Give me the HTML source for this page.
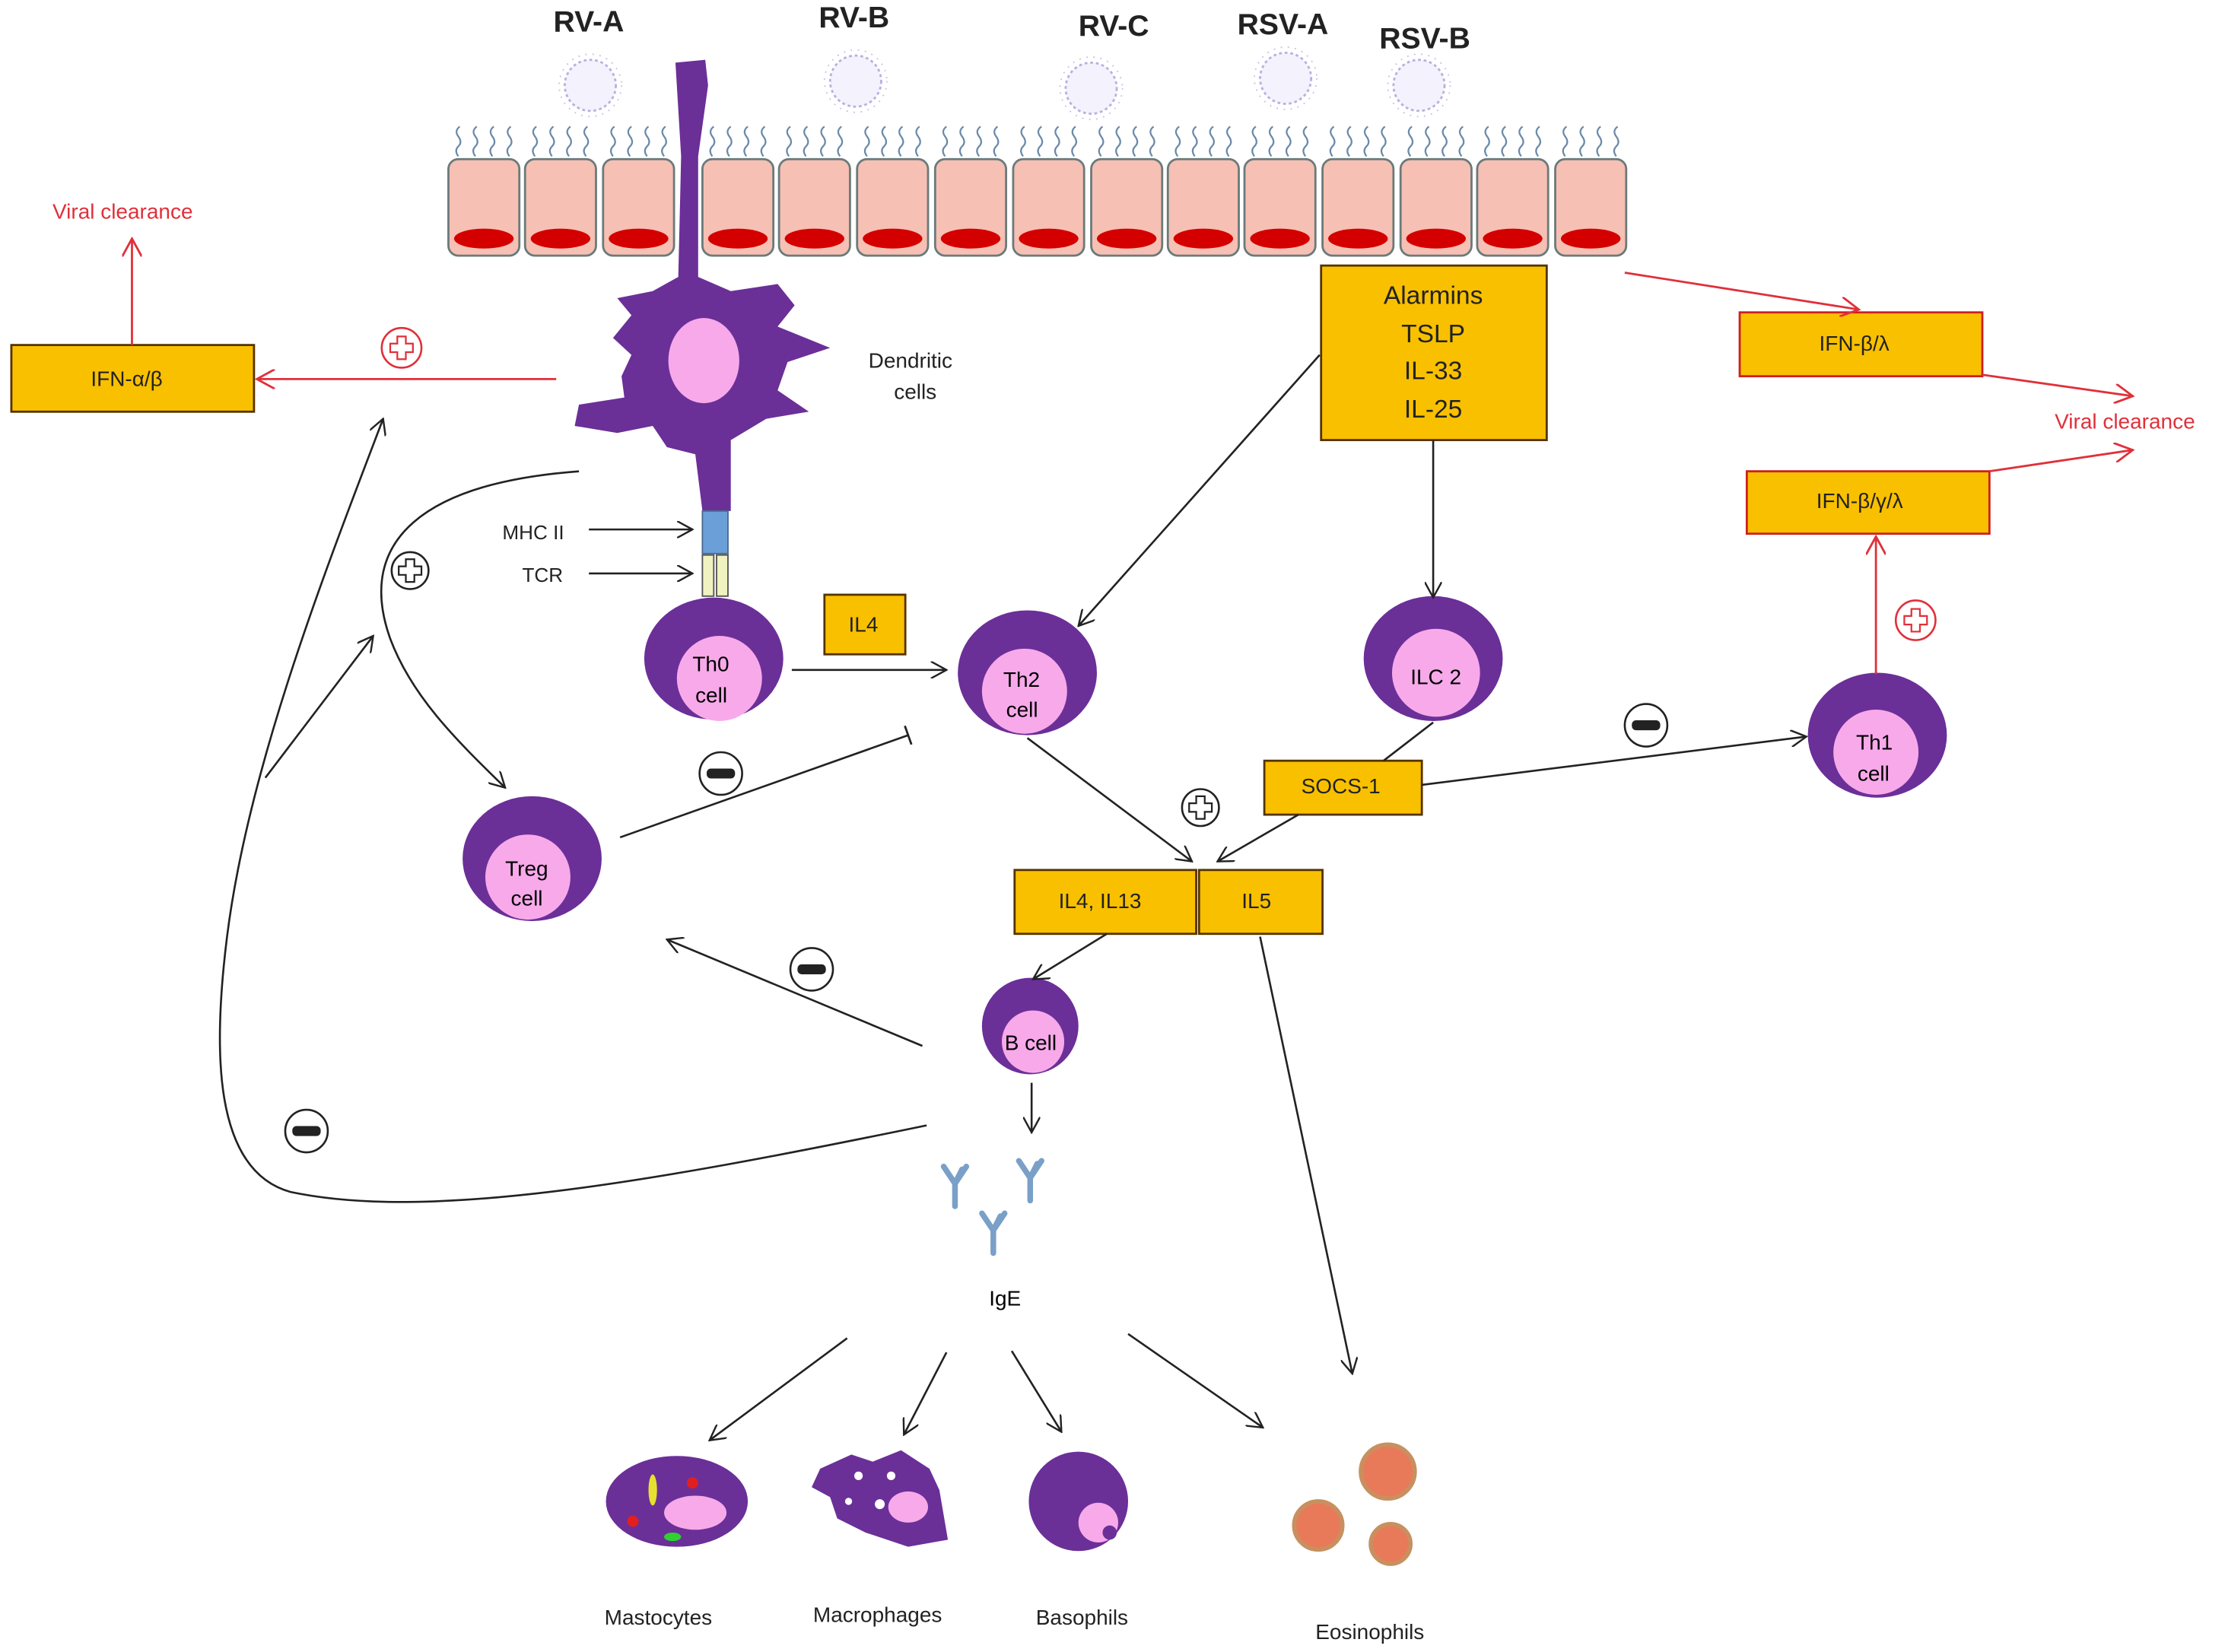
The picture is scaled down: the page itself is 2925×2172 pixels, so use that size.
<!DOCTYPE html>
<html><head><meta charset="utf-8"><style>
html,body{margin:0;padding:0;background:#fff;}
svg{display:block;}
text{font-family:"Liberation Sans",sans-serif;}
</style></head><body>
<svg width="2925" height="2172" viewBox="0 0 1568 1164" xmlns="http://www.w3.org/2000/svg">
<defs>
<marker id="a" viewBox="0 0 12 12" refX="11" refY="6" markerWidth="12" markerHeight="12" markerUnits="userSpaceOnUse" orient="auto"><path d="M0,0 L11,6 L0,12" fill="none" stroke="#222" stroke-width="1.3"/></marker>
<marker id="r" viewBox="0 0 12 12" refX="11" refY="6" markerWidth="14" markerHeight="14" markerUnits="userSpaceOnUse" orient="auto"><path d="M0,0 L11,6 L0,12" fill="none" stroke="#e0303a" stroke-width="1.3"/></marker>
<marker id="t" viewBox="0 0 4 14" refX="2" refY="7" markerWidth="4" markerHeight="14" markerUnits="userSpaceOnUse" orient="auto"><path d="M2,0 L2,14" stroke="#222" stroke-width="1.5"/></marker>
<g id="cilia"><path d="M3,22 q-3,-4 0,-7 q3,-3 0,-7 q-3,-4 1,-7" fill="none" stroke="#6a8aa8" stroke-width="1.2"/></g>
<g id="virus"><circle r="18" fill="#f4f2fc" stroke="#b8b0e0" stroke-width="1.5" stroke-dasharray="2 2"/><circle r="22" fill="none" stroke="#c8c0ec" stroke-width="1" stroke-dasharray="1 4"/></g>
<g id="plus"><circle r="13" fill="#fff" stroke="#222" stroke-width="1.4"/><path d="M-3,-8 h6 v5 h5 v6 h-5 v5 h-6 v-5 h-5 v-6 h5z" fill="#fff" stroke="#222" stroke-width="1.2"/></g>
<g id="rplus"><circle r="14" fill="#fff" stroke="#e0303a" stroke-width="1.4"/><path d="M-3,-8 h6 v5 h5 v6 h-5 v5 h-6 v-5 h-5 v-6 h5z" fill="#fff" stroke="#e0303a" stroke-width="1.2"/></g>
<g id="minus"><circle r="15" fill="#fff" stroke="#222" stroke-width="1.4"/><rect x="-10" y="-3.5" width="20" height="7" rx="3" fill="#222"/></g>
<g id="cilrow"><use href="#cilia" x="4" y="88"/><use href="#cilia" x="16" y="88"/><use href="#cilia" x="28" y="88"/><use href="#cilia" x="40" y="88"/></g>
<g id="cell"><rect x="0" y="112" width="50" height="68" rx="7" fill="#f6c0b4" stroke="#6a7a7a" stroke-width="1.5"/><ellipse cx="25" cy="168" rx="21" ry="7" fill="#d40000"/><use href="#cilrow"/></g>
<g id="ab"><path d="M0,0 L8,12 L16,0 M8,12 V28 M13,2 L8,12" fill="none" stroke="#7aa0c8" stroke-width="4" stroke-linecap="round"/></g>
</defs>

<!-- viruses -->
<g font-weight="bold" font-size="21" fill="#222">
<text x="390" y="22">RV-A</text><text x="577" y="19">RV-B</text><text x="760" y="25">RV-C</text><text x="872" y="24">RSV-A</text><text x="972" y="34">RSV-B</text></g>
<use href="#virus" x="416" y="60"/><use href="#virus" x="603" y="57"/><use href="#virus" x="769" y="62"/><use href="#virus" x="906" y="55"/><use href="#virus" x="1000" y="60"/>

<!-- epithelium -->
<use href="#cell" x="316"/><use href="#cell" x="370"/><use href="#cell" x="425"/>
<use href="#cell" x="495"/><use href="#cell" x="549"/><use href="#cell" x="604"/><use href="#cell" x="659"/><use href="#cell" x="714"/><use href="#cell" x="769"/><use href="#cell" x="823"/><use href="#cell" x="877"/><use href="#cell" x="932"/><use href="#cell" x="987"/><use href="#cell" x="1041"/><use href="#cell" x="1096"/>

<!-- dendritic cell -->
<path d="M476,44 L497,42 L499,60 L492,110 L492,195 L515,205 L548,200 L560,215 L548,230 L585,245 L555,255 L548,275 L570,290 L540,295 L515,310 L515,360 L495,360 L490,320 L470,315 L460,300 L435,305 L405,300 L408,285 L440,280 L438,265 L445,250 L432,238 L445,222 L435,210 L460,205 L478,195 L480,110 Z" fill="#6b2f98"/>
<ellipse cx="496" cy="254" rx="25" ry="30" fill="#f7a9ea"/>
<rect x="495" y="360" width="18" height="30" fill="#6a9fd8" stroke="#4a6a90"/>
<rect x="495" y="391" width="8" height="29" fill="#f0f2c0" stroke="#555"/><rect x="505" y="391" width="8" height="29" fill="#f0f2c0" stroke="#555"/>
<text x="612" y="259" font-size="15" fill="#222">Dendritic</text><text x="630" y="281" font-size="15" fill="#222">cells</text>
<text x="354" y="380" font-size="14" fill="#222">MHC II</text><text x="368" y="410" font-size="14" fill="#222">TCR</text>

<!-- cells -->
<g><ellipse cx="503" cy="464" rx="49" ry="43" fill="#6b2f98"/><circle cx="507" cy="478" r="30" fill="#f7a9ea"/><text x="488" y="473" font-size="15">Th0</text><text x="490" y="495" font-size="15">cell</text></g>
<g><ellipse cx="724" cy="474" rx="49" ry="44" fill="#6b2f98"/><circle cx="722" cy="487" r="30" fill="#f7a9ea"/><text x="707" y="484" font-size="15">Th2</text><text x="709" y="505" font-size="15">cell</text></g>
<g><ellipse cx="1010" cy="464" rx="49" ry="44" fill="#6b2f98"/><circle cx="1012" cy="474" r="31" fill="#f7a9ea"/><text x="994" y="482" font-size="15">ILC 2</text></g>
<g><ellipse cx="1323" cy="518" rx="49" ry="44" fill="#6b2f98"/><circle cx="1322" cy="530" r="30" fill="#f7a9ea"/><text x="1308" y="528" font-size="15">Th1</text><text x="1309" y="550" font-size="15">cell</text></g>
<g><ellipse cx="375" cy="605" rx="49" ry="44" fill="#6b2f98"/><circle cx="372" cy="618" r="30" fill="#f7a9ea"/><text x="356" y="617" font-size="15">Treg</text><text x="360" y="638" font-size="15">cell</text></g>
<g><ellipse cx="726" cy="723" rx="34" ry="34" fill="#6b2f98"/><circle cx="728" cy="734" r="22" fill="#f7a9ea"/><text x="708" y="740" font-size="15">B cell</text></g>

<!-- boxes -->
<g stroke="#553300" stroke-width="1.5" fill="#f9c000">
<rect x="8" y="243" width="171" height="47"/><rect x="931" y="187" width="159" height="123"/>
<rect x="581" y="419" width="57" height="42"/><rect x="891" y="536" width="111" height="38"/>
<rect x="715" y="613" width="128" height="45"/><rect x="845" y="613" width="87" height="45"/>
</g>
<g stroke="#cc2020" stroke-width="1.5" fill="#f9c000"><rect x="1226" y="220" width="171" height="45"/><rect x="1231" y="332" width="171" height="44"/></g>
<g font-size="15" fill="#222">
<text x="64" y="272">IFN-α/β</text><text x="598" y="445">IL4</text><text x="917" y="559">SOCS-1</text>
<text x="746" y="640">IL4, IL13</text><text x="875" y="640">IL5</text>
<text x="1282" y="247">IFN-β/λ</text><text x="1280" y="358">IFN-β/γ/λ</text></g>
<g font-size="18" fill="#222" text-anchor="middle"><text x="1010" y="214">Alarmins</text><text x="1010" y="241">TSLP</text><text x="1010" y="267">IL-33</text><text x="1010" y="294">IL-25</text></g>
<g font-size="15" fill="#e0303a"><text x="37" y="154">Viral clearance</text><text x="1448" y="302">Viral clearance</text></g>

<!-- red arrows -->
<g stroke="#e0303a" stroke-width="1.5" fill="none">
<path d="M93,243 V168" marker-end="url(#r)"/><path d="M392,267 L181,267" marker-end="url(#r)"/>
<path d="M1145,192 L1310,218" marker-end="url(#r)"/><path d="M1397,264 L1503,279" marker-end="url(#r)"/>
<path d="M1402,332 L1503,317" marker-end="url(#r)"/><path d="M1322,475 V378" marker-end="url(#r)"/>
</g>
<use href="#rplus" x="283" y="245"/><use href="#rplus" x="1350" y="437"/>

<!-- black arrows -->
<g stroke="#222" stroke-width="1.4" fill="none">
<path d="M415,373 H488" marker-end="url(#a)"/><path d="M415,404 H488" marker-end="url(#a)"/>
<path d="M558,472 H667" marker-end="url(#a)"/>
<path d="M930,250 L760,441" marker-end="url(#a)"/>
<path d="M1010,310 V421" marker-end="url(#a)"/>
<path d="M724,520 L840,607" marker-end="url(#a)"/>
<path d="M1010,509 L975,536"/><path d="M915,574 L858,607" marker-end="url(#a)"/>
<path d="M1002,553 L1273,519" marker-end="url(#a)"/>
<path d="M437,590 L640,518" marker-end="url(#t)"/>
<path d="M408,332 C300,340 250,380 275,450 C290,490 320,520 356,555" marker-end="url(#a)"/>
<path d="M780,658 L728,690" marker-end="url(#a)"/>
<path d="M888,660 L953,968" marker-end="url(#a)"/>
<path d="M650,737 L470,662" marker-end="url(#a)"/>
<path d="M727,763 V798" marker-end="url(#a)"/>
<path d="M653,793 C450,835 300,860 205,840 C150,825 150,740 160,660 C175,540 230,400 270,295" marker-end="url(#a)"/>
<path d="M187,548 L263,448" marker-end="url(#a)"/>
<path d="M597,943 L500,1015" marker-end="url(#a)"/>
<path d="M667,953 L637,1011" marker-end="url(#a)"/>
<path d="M713,952 L748,1009" marker-end="url(#a)"/>
<path d="M795,940 L890,1006" marker-end="url(#a)"/>
</g>
<use href="#plus" x="289" y="402"/><use href="#plus" x="846" y="569"/>
<use href="#minus" x="508" y="545"/><use href="#minus" x="1160" y="511"/><use href="#minus" x="572" y="683"/><use href="#minus" x="216" y="797"/>

<!-- IgE -->
<use href="#ab" x="665" y="822"/><use href="#ab" x="718" y="818"/><use href="#ab" x="692" y="855"/>
<text x="697" y="920" font-size="15">IgE</text>

<!-- effector cells -->
<ellipse cx="477" cy="1058" rx="50" ry="32" fill="#6b2f98"/><ellipse cx="490" cy="1066" rx="22" ry="12" fill="#f7a9ea"/>
<ellipse cx="460" cy="1050" rx="3" ry="11" fill="#e6e030"/><circle cx="446" cy="1072" r="4" fill="#e02020"/><circle cx="488" cy="1045" r="4" fill="#e02020"/><ellipse cx="474" cy="1083" rx="6" ry="3" fill="#30d030"/>
<path d="M578,1035 L600,1025 L615,1030 L635,1022 L655,1035 L662,1050 L668,1085 L640,1090 L610,1080 L590,1070 L585,1055 L572,1048 Z" fill="#6b2f98"/>
<ellipse cx="640" cy="1062" rx="14" ry="11" fill="#f7a9ea"/><circle cx="605" cy="1040" r="3" fill="#fff"/><circle cx="620" cy="1060" r="3.5" fill="#fff"/><circle cx="628" cy="1040" r="3" fill="#fff"/><circle cx="598" cy="1058" r="2.5" fill="#fff"/>
<circle cx="760" cy="1058" r="35" fill="#6b2f98"/><circle cx="774" cy="1073" r="14" fill="#f7a9ea"/><circle cx="782" cy="1080" r="5" fill="#6b2f98"/>
<g fill="#e87a5a" stroke="#c89060" stroke-width="3"><circle cx="978" cy="1037" r="19"/><circle cx="929" cy="1075" r="17"/><circle cx="980" cy="1088" r="14"/></g>
<g font-size="15" fill="#222"><text x="426" y="1145">Mastocytes</text><text x="573" y="1143">Macrophages</text><text x="730" y="1145">Basophils</text><text x="927" y="1155">Eosinophils</text></g>
</svg>
</body></html>
